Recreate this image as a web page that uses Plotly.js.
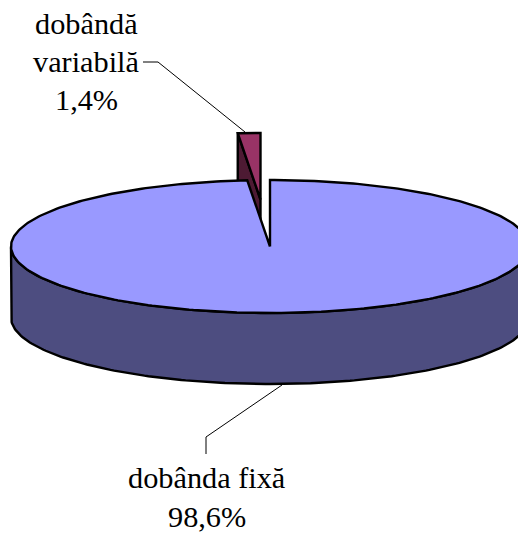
<!DOCTYPE html>
<html>
<head>
<meta charset="utf-8">
<script src="https://cdn.plot.ly/plotly-3.0.1.min.js"></script>
<style>html,body{margin:0;padding:0;background:#fff;overflow:hidden}</style>
</head>
<body>
<div id="chart" style="width:518px;height:533px"></div>
<script>
// Data
var categories = ['dobânda fixă', 'dobândă variabilă'];
var values = [98.6, 1.4];
var valueLabels = ['98,6%', '1,4%'];
var labelLines = [['dobânda fixă', '98,6%'], ['dobândă', 'variabilă', '1,4%']];

// Pie projection
var cx = 270, cy = 246.5, rx = 259, ry = 66.5, depth = 71;
var explodeX = -9.5, explodeY = -47;
var topColors = ['#9999FF', '#993366'];
var sideColors = ['#4D4D80', '#4D1A33'];
var edge = {color: '#000000', width: 2.4};

function px(deg) { return rx * Math.sin(deg * Math.PI / 180); }
function py(deg) { return -ry * Math.cos(deg * Math.PI / 180); }
function range(a, b, n) {
  var out = [];
  for (var i = 0; i <= n; i++) out.push(a + (b - a) * i / n);
  return out;
}
function poly(xs, ys, color, line) {
  return {type: 'scatter', mode: 'lines', x: xs, y: ys, fill: 'toself', fillcolor: color,
          line: line, hoverinfo: 'skip', showlegend: false};
}

var total = values.reduce(function (a, b) { return a + b; }, 0);
var split = 360 * values[0] / total;

var traces = [];

// Exploded slice (second category): inner wall, then top face
var ox = cx + explodeX, oy = cy + explodeY;
traces.push(poly(
  [ox + px(split), ox, ox, ox + px(split), ox + px(split)],
  [oy + py(split), oy, oy + depth, oy + py(split) + depth, oy + py(split)],
  sideColors[1], edge));
var smallArc = range(split, 360, 12);
traces.push(poly(
  [ox].concat(smallArc.map(function (a) { return ox + px(a); })).concat([ox]),
  [oy].concat(smallArc.map(function (a) { return oy + py(a); })).concat([oy]),
  topColors[1], edge));

// Main slice: cylinder wall along the front half
var front = range(90, 270, 180);
var wallX = front.map(function (a) { return cx + px(a); });
var wallTop = front.map(function (a) { return cy + py(a); });
var wallBottom = wallTop.map(function (y) { return y + depth; });
traces.push(poly(
  wallX.concat(wallX.slice().reverse()).concat([wallX[0]]),
  wallTop.concat(wallBottom.slice().reverse()).concat([wallTop[0]]),
  sideColors[0], edge));

// Main slice: top face
var bigArc = range(0, split, 360);
traces.push(poly(
  [cx].concat(bigArc.map(function (a) { return cx + px(a); })).concat([cx]),
  [cy].concat(bigArc.map(function (a) { return cy + py(a); })).concat([cy]),
  topColors[0], edge));

// Leader lines
var leader = {color: '#000000', width: 1};
traces.push({type: 'scatter', mode: 'lines', x: [282, 206, 206], y: [385, 437, 454],
             line: leader, hoverinfo: 'skip', showlegend: false});
traces.push({type: 'scatter', mode: 'lines', x: [143, 158, 245], y: [62, 62, 132],
             line: leader, hoverinfo: 'skip', showlegend: false});

// One annotation per text line so the line spacing follows the reference
var textFont = {family: '"Liberation Serif", serif', size: 30.3, color: '#000000'};
var labelX = [207, 86.5];
var labelMiddles = [[478, 517], [24, 62, 100]];
var annotations = [];
labelLines.forEach(function (lines, i) {
  lines.forEach(function (t, j) {
    annotations.push({x: labelX[i], y: labelMiddles[i][j], xref: 'x', yref: 'y', text: t,
      showarrow: false, font: textFont, xanchor: 'center', yanchor: 'middle'});
  });
});

var layout = {
  width: 518, height: 533,
  margin: {l: 0, r: 0, t: 0, b: 0},
  paper_bgcolor: '#ffffff', plot_bgcolor: '#ffffff',
  showlegend: false,
  xaxis: {range: [0, 518], visible: false, fixedrange: true},
  yaxis: {range: [533, 0], visible: false, fixedrange: true},
  annotations: annotations
};
Plotly.newPlot('chart', traces, layout, {displayModeBar: false, staticPlot: true});
</script>
</body>
</html>
